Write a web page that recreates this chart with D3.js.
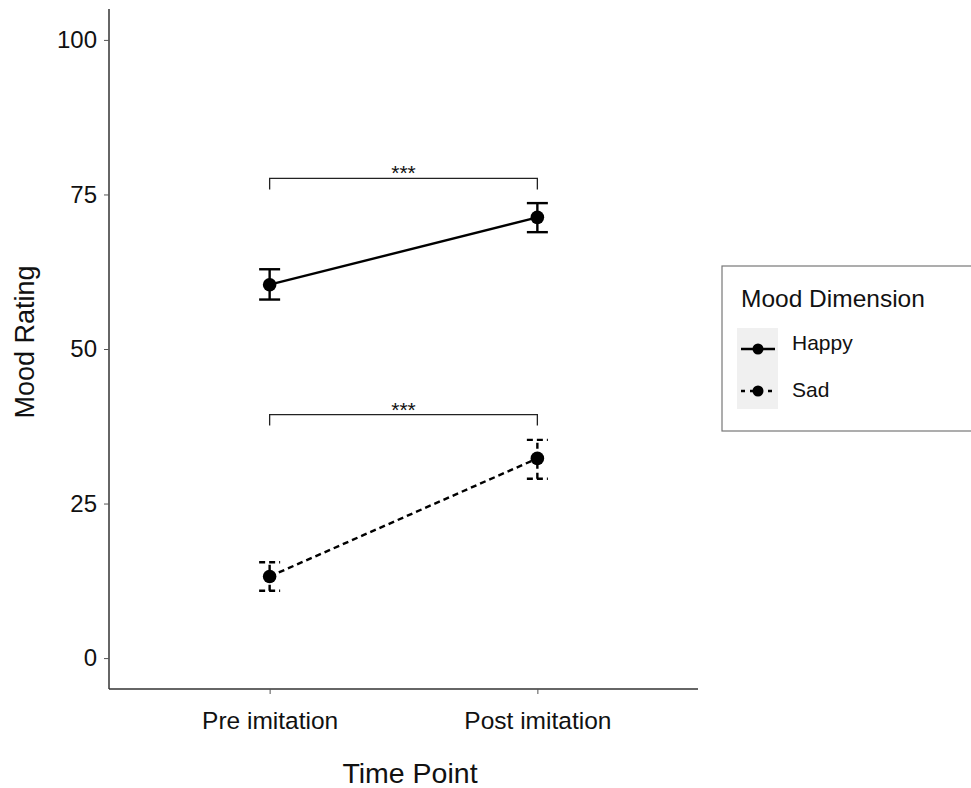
<!DOCTYPE html>
<html>
<head>
<meta charset="utf-8">
<script src="https://cdn.jsdelivr.net/npm/d3@7"></script>
<style>
  body { margin: 0; background: #fff; }
  svg { font-family: "Liberation Sans", Arial, sans-serif; }
</style>
</head>
<body>
<div class="chart"></div>
<script>
// data
var timePoints = ["Pre imitation", "Post imitation"];
var moods = ["Happy", "Sad"];
var happyMean = [60.4, 71.3];
var happyLow = [58.0, 68.9];
var happyHigh = [62.9, 73.6];
var sadMean = [13.2, 32.3];
var sadLow = [10.9, 29.0];
var sadHigh = [15.5, 35.3];
var yTicks = [0, 25, 50, 75, 100];
var bracketY = [77.6, 39.4];
var bracketLabel = ["***", "***"];

var width = 971, height = 788;
var margin = {top: 9, left: 109, right: 698, bottom: 689};

var svg = d3.select(".chart").append("svg")
    .attr("width", width)
    .attr("height", height);

var scaleY = d3.scaleLinear()
    .domain([-5, 105])
    .range([margin.bottom, margin.top]);

// discrete axis with ggplot-style 0.6 expansion
var scaleX = d3.scaleLinear()
    .domain([0.4, 2.6])
    .range([margin.left, margin.right]);
function xPos(i) { return scaleX(i + 1); }

var series = [
  {name: moods[0], mean: happyMean, lo: happyLow, hi: happyHigh, dash: null},
  {name: moods[1], mean: sadMean, lo: sadLow, hi: sadHigh, dash: "6,4"}
];

// axes
var yAxis = svg.append("g")
    .attr("transform", "translate(" + margin.left + ",0)")
    .call(d3.axisLeft(scaleY).tickValues(yTicks).tickSize(5).tickSizeOuter(0));
yAxis.select(".domain").attr("stroke", "#333").attr("stroke-width", 1.5)
    .attr("d", "M0," + margin.bottom + "V" + margin.top);
yAxis.selectAll(".tick line").attr("stroke", "#555");
yAxis.selectAll(".tick text").attr("font-size", 24).attr("fill", "#111").attr("x", -12);

var xAxis = svg.append("g")
    .attr("transform", "translate(0," + margin.bottom + ")")
    .call(d3.axisBottom(scaleX).tickValues([1, 2]).tickSize(5).tickSizeOuter(0)
        .tickFormat(function(d) { return timePoints[d - 1]; }));
xAxis.select(".domain").attr("stroke", "#333").attr("stroke-width", 1.5)
    .attr("d", "M" + margin.left + ",0H" + margin.right);
xAxis.selectAll(".tick line").attr("stroke", "#555");
xAxis.selectAll(".tick text").attr("font-size", 24.5).attr("fill", "#111").attr("y", 23);

// axis titles
svg.append("text")
    .attr("x", 410).attr("y", 783)
    .attr("text-anchor", "middle")
    .attr("font-size", 28.5)
    .attr("fill", "#111")
    .text("Time Point");

svg.append("text")
    .attr("transform", "translate(34,342) rotate(-90)")
    .attr("text-anchor", "middle")
    .attr("font-size", 27)
    .attr("fill", "#111")
    .text("Mood Rating");

// significance brackets
bracketY.forEach(function(v, i) {
  var y0 = scaleY(v), drop = 11;
  svg.append("path")
      .attr("d", "M" + xPos(0) + "," + (y0 + drop) + "V" + y0 + "H" + xPos(1) + "V" + (y0 + drop))
      .attr("fill", "none").attr("stroke", "#222").attr("stroke-width", 1.3);
  svg.append("text")
      .attr("x", (xPos(0) + xPos(1)) / 2).attr("y", y0 + 2)
      .attr("text-anchor", "middle")
      .attr("font-size", 21)
      .attr("fill", "#111")
      .text(bracketLabel[i]);
});

// lines, error bars, points
var line = d3.line()
    .x(function(d, i) { return xPos(i); })
    .y(function(d) { return scaleY(d); });

series.forEach(function(s) {
  var g = svg.append("g");
  g.append("path")
      .attr("d", line(s.mean))
      .attr("fill", "none").attr("stroke", "#000").attr("stroke-width", 2.4)
      .attr("stroke-dasharray", s.dash);
  s.mean.forEach(function(m, i) {
    var x = xPos(i), cap = 10.5;
    var eb = g.append("g")
        .attr("stroke", "#000").attr("stroke-width", 2.4)
        .attr("stroke-dasharray", s.dash);
    eb.append("line").attr("x1", x).attr("x2", x)
        .attr("y1", scaleY(s.lo[i])).attr("y2", scaleY(s.hi[i]));
    eb.append("line").attr("x1", x - cap).attr("x2", x + cap)
        .attr("y1", scaleY(s.lo[i])).attr("y2", scaleY(s.lo[i]));
    eb.append("line").attr("x1", x - cap).attr("x2", x + cap)
        .attr("y1", scaleY(s.hi[i])).attr("y2", scaleY(s.hi[i]));
    g.append("circle")
        .attr("cx", x).attr("cy", scaleY(m)).attr("r", 6.8)
        .attr("fill", "#000");
  });
});

// legend
var leg = svg.append("g");
leg.append("rect")
    .attr("x", 722).attr("y", 266).attr("width", 260).attr("height", 165)
    .attr("fill", "#fff").attr("stroke", "#777").attr("stroke-width", 1.2);
leg.append("text")
    .attr("x", 741).attr("y", 307)
    .attr("font-size", 24.5).attr("fill", "#111")
    .text("Mood Dimension");
leg.append("rect")
    .attr("x", 737).attr("y", 328).attr("width", 41).attr("height", 81)
    .attr("fill", "#f0f0f0");
var keyY = [349, 391], labelY = [350, 397];
series.forEach(function(s, i) {
  var y = keyY[i];
  leg.append("line")
      .attr("x1", 741).attr("x2", 775).attr("y1", y).attr("y2", y)
      .attr("stroke", "#000").attr("stroke-width", 2.5)
      .attr("stroke-dasharray", s.dash ? "4,5" : null);
  leg.append("circle").attr("cx", 758).attr("cy", y).attr("r", 5.5).attr("fill", "#000");
  leg.append("text")
      .attr("x", 792).attr("y", labelY[i])
      .attr("font-size", 21).attr("fill", "#111")
      .text(s.name);
});
</script>
</body>
</html>
